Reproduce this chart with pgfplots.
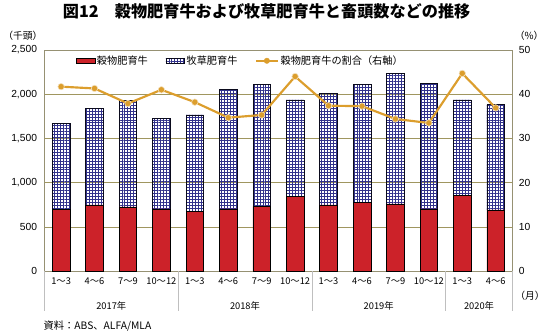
\documentclass[border=0pt]{standalone}
\usepackage{fontspec}
\setmainfont{Noto Sans CJK JP}
\newfontfamily\arial{Liberation Sans}
\usepackage{pgfplots}
\pgfplotsset{compat=1.18}
\usetikzlibrary{patterns.meta}
\definecolor{barred}{RGB}{204,34,41}
\definecolor{gridblue}{RGB}{50,50,140}
\definecolor{lineor}{RGB}{220,158,45}
\definecolor{gridol}{RGB}{160,150,95}
\definecolor{frame}{RGB}{150,145,115}
\tikzdeclarepattern{
  name=mygrid, type=uncolored,
  bottom left={(-.1pt,-.1pt)}, top right={(3.1pt,3.1pt)},
  tile size={(3pt,3pt)},
  code={\draw[line width=0.8pt] (-.1pt,1.5pt) -- (3.1pt,1.5pt);
        \draw[line width=0.8pt] (1.5pt,-.1pt) -- (1.5pt,3.1pt);}
}
\begin{document}
\begin{tikzpicture}
\begin{axis}[
  scale only axis, width=478pt, height=226pt,
  at={(0,0)}, anchor=south west,
  xmin=-0.5, xmax=13.5, ymin=0, ymax=2500,
  ybar stacked, bar width=18pt,
  xtick={0,...,13},
  xticklabels={1〜3,4〜6,7〜9,10〜12,1〜3,4〜6,7〜9,10〜12,1〜3,4〜6,7〜9,10〜12,1〜3,4〜6},
  xticklabel style={font=\fontsize{9.5}{11}\selectfont, yshift=-3pt},
  ytick={0,500,1000,1500,2000,2500},
  yticklabels={0,500,{1,000},{1,500},{2,000},{2,500}},
  yticklabel style={font=\arial\fontsize{10.5}{12}\selectfont, xshift=-4pt},
  major tick length=0pt,
  ymajorgrids, grid style={gridol, line width=0.6pt},
  axis line style={frame, line width=0.6pt},
  clip=false,
]
\addplot[fill=barred, draw=black, line width=0.6pt] coordinates {
(0,697) (1,749) (2,727) (3,705) (4,675) (5,705) (6,734) (7,848) (8,749) (9,782) (10,760) (11,705) (12,859) (13,694)};
\addplot[pattern={mygrid}, pattern color=gridblue, draw=black!80!gridblue, line width=0.6pt] coordinates {
(0,970) (1,1087) (2,1203) (3,1021) (4,1092) (5,1349) (6,1375) (7,1088) (8,1261) (9,1327) (10,1478) (11,1419) (12,1077) (13,1187)};
\draw[black!25, line width=0.6pt] (axis cs:-0.5,0) -- ++(0pt,-41pt);
\draw[black!25, line width=0.6pt] (axis cs:3.5,0) -- ++(0pt,-41pt);
\draw[black!25, line width=0.6pt] (axis cs:7.5,0) -- ++(0pt,-41pt);
\draw[black!25, line width=0.6pt] (axis cs:11.5,0) -- ++(0pt,-41pt);
\draw[black!25, line width=0.6pt] (axis cs:13.5,0) -- ++(0pt,-41pt);
\node[font=\fontsize{9.5}{11}\selectfont] at (axis cs:1.5,0) [yshift=-35pt] {2017年};
\node[font=\fontsize{9.5}{11}\selectfont] at (axis cs:5.5,0) [yshift=-35pt] {2018年};
\node[font=\fontsize{9.5}{11}\selectfont] at (axis cs:9.5,0) [yshift=-35pt] {2019年};
\node[font=\fontsize{9.5}{11}\selectfont] at (axis cs:12.5,0) [yshift=-35pt] {2020年};
\node[font=\fontsize{10}{12}\selectfont] at (rel axis cs:1,0) [xshift=18pt, yshift=-25pt] {（月）};
\node[font=\fontsize{10}{12}\selectfont] at (rel axis cs:0,1) [xshift=-22pt, yshift=14pt] {（千頭）};
\node[font=\fontsize{10}{12}\selectfont] at (rel axis cs:1,1) [xshift=17pt, yshift=14pt] {（\%）};
\node[font=\bfseries\fontsize{16.5}{18}\selectfont] at (rel axis cs:0,1) [xshift=227pt, yshift=39pt] {図12\hspace{1em}穀物肥育牛および牧草肥育牛と畜頭数などの推移};
\node[font=\fontsize{10.5}{12}\selectfont, anchor=west, inner sep=0pt] at (rel axis cs:0,0) [xshift=-1pt, yshift=-56pt] {資料：ABS、ALFA/MLA};
\end{axis}
\begin{axis}[
  scale only axis, width=478pt, height=226pt,
  at={(0,0)}, anchor=south west,
  xmin=-0.5, xmax=13.5, ymin=0, ymax=50,
  axis x line=none,
  axis y line*=right,
  ytick={0,10,20,30,40,50},
  /pgf/number format/assume math mode=true,
  yticklabel style={font=\arial\fontsize{10.5}{12}\selectfont, xshift=3pt},
  major tick length=0pt,
  axis line style={frame, line width=0.6pt},
  legend columns=3,
  legend style={at={(0.067,0.951)}, anchor=west, draw=none, fill=none,
    font=\fontsize{10.4}{12}\selectfont, inner sep=0pt,
    /tikz/every even column/.append style={column sep=16pt}},
  legend cell align=left,
]
\addlegendimage{legend image code/.code={\draw[fill=barred, draw=black, line width=0.5pt] (0pt,-2.5pt) rectangle (19pt,2.5pt);}}
\addlegendentry{穀物肥育牛}
\addlegendimage{legend image code/.code={\draw[pattern={mygrid}, pattern color=gridblue, draw=black!80!gridblue, line width=0.5pt] (0pt,-2.5pt) rectangle (19pt,2.5pt);}}
\addlegendentry{牧草肥育牛}
\addlegendimage{legend image code/.code={\draw[lineor, line width=2pt] (0pt,0pt) -- (22pt,0pt); \fill[lineor] (11pt,0pt) circle (2.8pt);}}
\addlegendentry{穀物肥育牛の割合（右軸）}
\addplot[lineor, line width=2.2pt, mark=*, mark size=3.3pt, mark options={fill=lineor, draw=white!70!lineor, line width=0.6pt}] coordinates {
(0,41.7) (1,41.3) (2,37.9) (3,41.0) (4,38.2) (5,34.7) (6,35.3) (7,44.0) (8,37.4) (9,37.3) (10,34.4) (11,33.5) (12,44.7) (13,36.9)};
\end{axis}
\path[use as bounding box] (-41pt,-63pt) rectangle (507pt,277pt);
\end{tikzpicture}
\end{document}
